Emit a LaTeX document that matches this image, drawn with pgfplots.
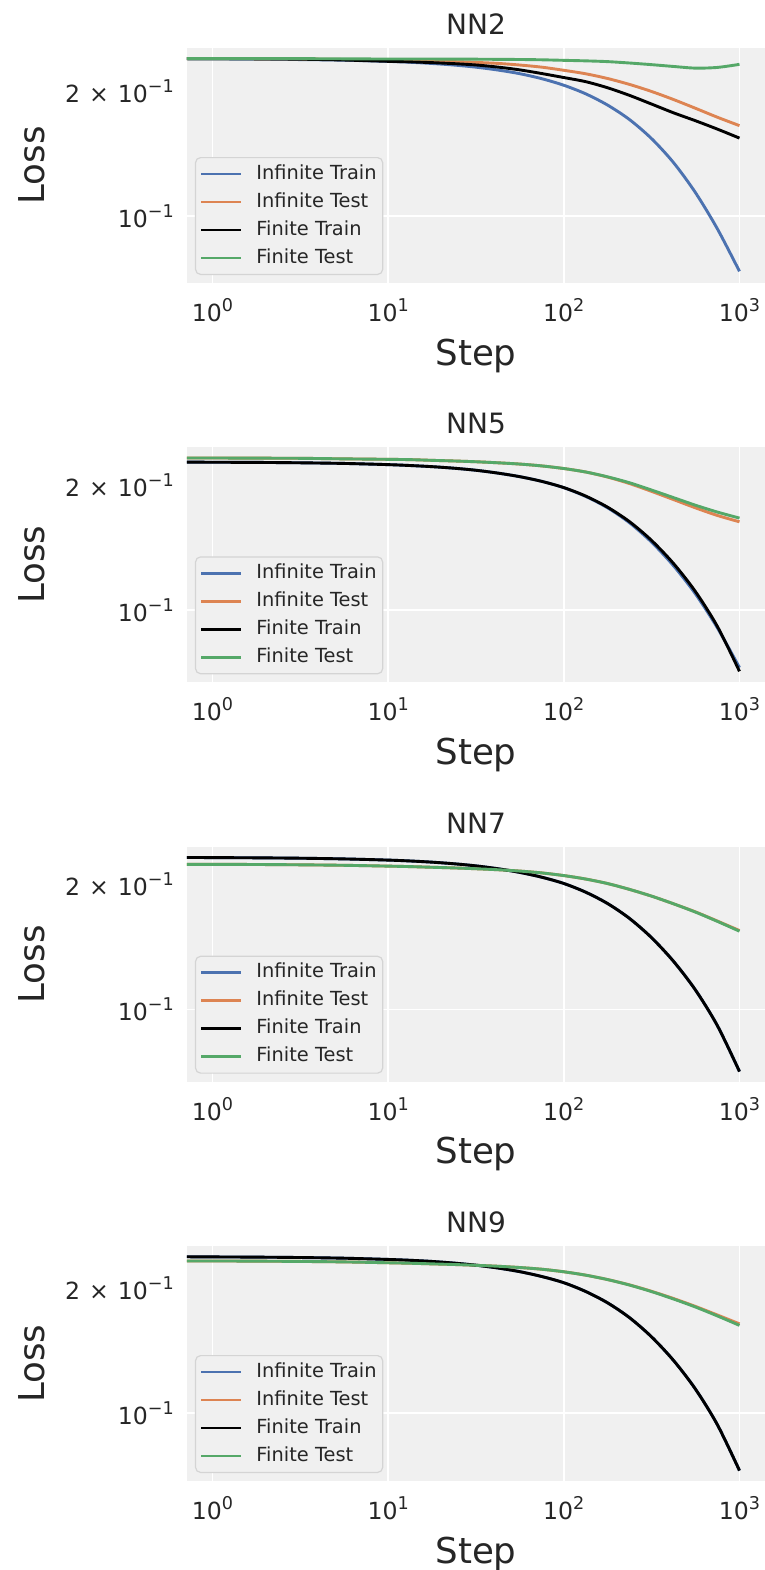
\documentclass[border=0pt]{standalone}
\usepackage{fontspec}
\setmainfont{DejaVu Sans}
\usepackage{pgfplots}
\usepackage{pgfplotstable}
\pgfplotsset{compat=1.18}
\definecolor{sbblue}{HTML}{4C72B0}
\definecolor{sborange}{HTML}{DD8452}
\definecolor{sbgreen}{HTML}{55A868}
\definecolor{bgc}{HTML}{F0F0F0}
\definecolor{txt}{HTML}{262626}
\definecolor{legedge}{HTML}{D4D4D4}
\newcommand\sps[1]{\raisebox{5pt}{\fontsize{8.8}{10}\selectfont #1}}
\newcommand\twoten{2\hspace{0.38em}×\hspace{0.38em}10\sps{−1}}
% columns: step, Infinite Train, Infinite Test, Finite Train, Finite Test
\pgfplotstableread{
x b o k g
0.5623 0.2389 0.2389 0.2389 0.2389
1 0.2385 0.2389 0.2389 0.2389
1.778 0.2382 0.2387 0.2387 0.2389
3.162 0.2377 0.2384 0.2382 0.2389
5.623 0.2369 0.2378 0.2371 0.2387
10 0.2353 0.2369 0.2354 0.2384
13.34 0.2342 0.2363 0.2347 0.2384
17.78 0.2326 0.2357 0.2337 0.2384
23.71 0.2306 0.2350 0.2324 0.2382
31.62 0.2279 0.2340 0.2307 0.2382
42.17 0.2243 0.2327 0.2280 0.2380
56.23 0.2198 0.2306 0.2245 0.2378
74.99 0.2138 0.2279 0.2200 0.2374
100 0.2062 0.2240 0.2152 0.2367
133.4 0.1966 0.2197 0.2103 0.2360
177.8 0.1847 0.2140 0.2033 0.2350
237.1 0.1704 0.2071 0.1949 0.2332
316.2 0.1534 0.1992 0.1858 0.2311
421.7 0.1343 0.1905 0.1770 0.2288
562.3 0.1137 0.1815 0.1694 0.2267
749.9 0.0930 0.1727 0.1617 0.2276
1000 0.0736 0.1649 0.1539 0.2315
}\tabA
\pgfplotstableread{
x b o k g
0.5623 0.2273 0.2324 0.2273 0.2324
1 0.2270 0.2324 0.2270 0.2324
1.778 0.2268 0.2322 0.2268 0.2322
3.162 0.2263 0.2320 0.2263 0.2320
5.623 0.2255 0.2313 0.2255 0.2313
10 0.2240 0.2307 0.2240 0.2307
13.34 0.2229 0.2303 0.2229 0.2303
17.78 0.2215 0.2294 0.2215 0.2294
23.71 0.2196 0.2286 0.2196 0.2286
31.62 0.2171 0.2276 0.2171 0.2276
42.17 0.2137 0.2263 0.2137 0.2263
56.23 0.2095 0.2247 0.2095 0.2247
74.99 0.2041 0.2224 0.2041 0.2224
100 0.1971 0.2192 0.1972 0.2192
133.4 0.1877 0.2150 0.1881 0.2150
177.8 0.1762 0.2090 0.1768 0.2093
237.1 0.1621 0.2016 0.1631 0.2025
316.2 0.1456 0.1931 0.1470 0.1945
421.7 0.1277 0.1845 0.1293 0.1865
562.3 0.1092 0.1762 0.1106 0.1788
749.9 0.0904 0.1689 0.0911 0.1721
1000 0.0726 0.1631 0.0711 0.1665
}\tabB
\pgfplotstableread{
x b o k g
0.5623 0.2324 0.2236 0.2324 0.2236
1 0.2321 0.2236 0.2321 0.2236
1.778 0.2318 0.2234 0.2318 0.2234
3.162 0.2313 0.2230 0.2313 0.2230
5.623 0.2304 0.2224 0.2304 0.2224
10 0.2289 0.2214 0.2289 0.2214
13.34 0.2278 0.2208 0.2278 0.2208
17.78 0.2263 0.2200 0.2263 0.2200
23.71 0.2243 0.2192 0.2243 0.2192
31.62 0.2217 0.2182 0.2217 0.2182
42.17 0.2182 0.2170 0.2182 0.2170
56.23 0.2138 0.2154 0.2138 0.2154
74.99 0.2082 0.2132 0.2082 0.2132
100 0.2011 0.2101 0.2011 0.2101
133.4 0.1916 0.2061 0.1916 0.2061
177.8 0.1799 0.2010 0.1799 0.2010
237.1 0.1656 0.1946 0.1656 0.1946
316.2 0.1489 0.1875 0.1489 0.1875
421.7 0.1306 0.1797 0.1306 0.1797
562.3 0.1114 0.1718 0.1114 0.1716
749.9 0.0914 0.1633 0.0914 0.1630
1000 0.0710 0.1550 0.0710 0.1544
}\tabC
\pgfplotstableread{
x b o k g
0.5623 0.2380 0.2324 0.2380 0.2324
1 0.2377 0.2324 0.2377 0.2324
1.778 0.2374 0.2322 0.2374 0.2322
3.162 0.2369 0.2318 0.2369 0.2318
5.623 0.2360 0.2312 0.2360 0.2312
10 0.2344 0.2301 0.2344 0.2301
13.34 0.2333 0.2295 0.2333 0.2295
17.78 0.2318 0.2287 0.2318 0.2287
23.71 0.2297 0.2279 0.2297 0.2279
31.62 0.2270 0.2269 0.2270 0.2269
42.17 0.2235 0.2257 0.2235 0.2257
56.23 0.2190 0.2241 0.2190 0.2241
74.99 0.2132 0.2220 0.2132 0.2220
100 0.2060 0.2189 0.2060 0.2189
133.4 0.1962 0.2148 0.1962 0.2148
177.8 0.1842 0.2096 0.1842 0.2096
237.1 0.1696 0.2035 0.1696 0.2033
316.2 0.1525 0.1964 0.1525 0.1961
421.7 0.1338 0.1887 0.1338 0.1882
562.3 0.1141 0.1806 0.1141 0.1800
749.9 0.0936 0.1722 0.0936 0.1713
1000 0.0727 0.1640 0.0727 0.1626
}\tabD
\begin{document}
\begin{tikzpicture}
% ---------------- NN2
\begin{axis}[xmode=log, ymode=log, scale only axis, width=289pt, height=117.5pt,
    xmin=0.716, xmax=1397, ymin=0.0690, ymax=0.2534,
    at={(93.5pt,-24pt)}, anchor=north west, title=NN2,
    axis line style={draw=none}, axis background/.style={fill=bgc},
    major tick length=0pt, minor tick length=0pt,
    xtick={1,10,100,1000}, xticklabels={10\sps{0},10\sps{1},10\sps{2},10\sps{3}},
    ytick={0.1}, yticklabels={10\sps{−1}},
    extra y ticks={0.2}, extra y tick labels={\twoten},
    extra y tick style={grid=none},
    grid=major, major grid style={white, line width=0.8pt},
    tick label style={font=\fontsize{11.8}{14}\selectfont, text=txt},
    xticklabel style={yshift=-4.2pt}, yticklabel style={xshift=-3pt},
    label style={font=\fontsize{17.8}{20}\selectfont, text=txt},
    xlabel=Step, ylabel=Loss,
    x label style={at={(axis description cs:0.5,-0.349)}, anchor=base},
    y label style={at={(axis description cs:-0.2457,0.5)}, anchor=base},
    title style={font=\fontsize{14}{16}\selectfont, text=txt, at={(axis description cs:0.5,1)}, anchor=south, inner sep=0pt, yshift=0.5pt},
    legend style={at={(axis description cs:0.0138,0.034)}, anchor=south west,
      draw=legedge, fill=bgc, rounded corners=2.5pt, line width=0.6pt,
      font=\fontsize{9.7}{11}\selectfont, text=txt,
      inner xsep=2pt, inner ysep=2.7pt, row sep=3pt,
      nodes={inner xsep=1pt, inner ysep=1pt, text height=7pt, text depth=2pt}},
    legend cell align=left,
    legend image code/.code={\draw[#1, line width=1.45pt] (0pt,0pt) -- (20pt,0pt); \path (26pt,0pt);},
    every axis plot/.append style={line width=1.45pt, smooth}]
\addplot[sbblue] table[x=x,y=b]{\tabA};
\addlegendentry{Infinite Train}
\addplot[sborange] table[x=x,y=o]{\tabA};
\addlegendentry{Infinite Test}
\addplot[black] table[x=x,y=k]{\tabA};
\addlegendentry{Finite Train}
\addplot[sbgreen] table[x=x,y=g]{\tabA};
\addlegendentry{Finite Test}
\end{axis}
% ---------------- NN5
\begin{axis}[xmode=log, ymode=log, scale only axis, width=289pt, height=117.5pt,
    xmin=0.716, xmax=1397, ymin=0.0669, ymax=0.2466,
    at={(93.5pt,-223.65pt)}, anchor=north west, title=NN5,
    axis line style={draw=none}, axis background/.style={fill=bgc},
    major tick length=0pt, minor tick length=0pt,
    xtick={1,10,100,1000}, xticklabels={10\sps{0},10\sps{1},10\sps{2},10\sps{3}},
    ytick={0.1}, yticklabels={10\sps{−1}},
    extra y ticks={0.2}, extra y tick labels={\twoten},
    extra y tick style={grid=none},
    grid=major, major grid style={white, line width=0.8pt},
    tick label style={font=\fontsize{11.8}{14}\selectfont, text=txt},
    xticklabel style={yshift=-4.2pt}, yticklabel style={xshift=-3pt},
    label style={font=\fontsize{17.8}{20}\selectfont, text=txt},
    xlabel=Step, ylabel=Loss,
    x label style={at={(axis description cs:0.5,-0.349)}, anchor=base},
    y label style={at={(axis description cs:-0.2457,0.5)}, anchor=base},
    title style={font=\fontsize{14}{16}\selectfont, text=txt, at={(axis description cs:0.5,1)}, anchor=south, inner sep=0pt, yshift=0.5pt},
    legend style={at={(axis description cs:0.0138,0.034)}, anchor=south west,
      draw=legedge, fill=bgc, rounded corners=2.5pt, line width=0.6pt,
      font=\fontsize{9.7}{11}\selectfont, text=txt,
      inner xsep=2pt, inner ysep=2.7pt, row sep=3pt,
      nodes={inner xsep=1pt, inner ysep=1pt, text height=7pt, text depth=2pt}},
    legend cell align=left,
    legend image code/.code={\draw[#1, line width=1.45pt] (0pt,0pt) -- (20pt,0pt); \path (26pt,0pt);},
    every axis plot/.append style={line width=1.45pt, smooth}]
\addplot[sbblue] table[x=x,y=b]{\tabB};
\addlegendentry{Infinite Train}
\addplot[sborange] table[x=x,y=o]{\tabB};
\addlegendentry{Infinite Test}
\addplot[black] table[x=x,y=k]{\tabB};
\addlegendentry{Finite Train}
\addplot[sbgreen] table[x=x,y=g]{\tabB};
\addlegendentry{Finite Test}
\end{axis}
% ---------------- NN7
\begin{axis}[xmode=log, ymode=log, scale only axis, width=289pt, height=117.5pt,
    xmin=0.716, xmax=1397, ymin=0.0671, ymax=0.2465,
    at={(93.5pt,-423.35pt)}, anchor=north west, title=NN7,
    axis line style={draw=none}, axis background/.style={fill=bgc},
    major tick length=0pt, minor tick length=0pt,
    xtick={1,10,100,1000}, xticklabels={10\sps{0},10\sps{1},10\sps{2},10\sps{3}},
    ytick={0.1}, yticklabels={10\sps{−1}},
    extra y ticks={0.2}, extra y tick labels={\twoten},
    extra y tick style={grid=none},
    grid=major, major grid style={white, line width=0.8pt},
    tick label style={font=\fontsize{11.8}{14}\selectfont, text=txt},
    xticklabel style={yshift=-4.2pt}, yticklabel style={xshift=-3pt},
    label style={font=\fontsize{17.8}{20}\selectfont, text=txt},
    xlabel=Step, ylabel=Loss,
    x label style={at={(axis description cs:0.5,-0.349)}, anchor=base},
    y label style={at={(axis description cs:-0.2457,0.5)}, anchor=base},
    title style={font=\fontsize{14}{16}\selectfont, text=txt, at={(axis description cs:0.5,1)}, anchor=south, inner sep=0pt, yshift=0.5pt},
    legend style={at={(axis description cs:0.0138,0.034)}, anchor=south west,
      draw=legedge, fill=bgc, rounded corners=2.5pt, line width=0.6pt,
      font=\fontsize{9.7}{11}\selectfont, text=txt,
      inner xsep=2pt, inner ysep=2.7pt, row sep=3pt,
      nodes={inner xsep=1pt, inner ysep=1pt, text height=7pt, text depth=2pt}},
    legend cell align=left,
    legend image code/.code={\draw[#1, line width=1.45pt] (0pt,0pt) -- (20pt,0pt); \path (26pt,0pt);},
    every axis plot/.append style={line width=1.45pt, smooth}]
\addplot[sbblue] table[x=x,y=b]{\tabC};
\addlegendentry{Infinite Train}
\addplot[sborange] table[x=x,y=o]{\tabC};
\addlegendentry{Infinite Test}
\addplot[black] table[x=x,y=k]{\tabC};
\addlegendentry{Finite Train}
\addplot[sbgreen] table[x=x,y=g]{\tabC};
\addlegendentry{Finite Test}
\end{axis}
% ---------------- NN9
\begin{axis}[xmode=log, ymode=log, scale only axis, width=289pt, height=117.5pt,
    xmin=0.716, xmax=1397, ymin=0.0686, ymax=0.2525,
    at={(93.5pt,-623pt)}, anchor=north west, title=NN9,
    axis line style={draw=none}, axis background/.style={fill=bgc},
    major tick length=0pt, minor tick length=0pt,
    xtick={1,10,100,1000}, xticklabels={10\sps{0},10\sps{1},10\sps{2},10\sps{3}},
    ytick={0.1}, yticklabels={10\sps{−1}},
    extra y ticks={0.2}, extra y tick labels={\twoten},
    extra y tick style={grid=none},
    grid=major, major grid style={white, line width=0.8pt},
    tick label style={font=\fontsize{11.8}{14}\selectfont, text=txt},
    xticklabel style={yshift=-4.2pt}, yticklabel style={xshift=-3pt},
    label style={font=\fontsize{17.8}{20}\selectfont, text=txt},
    xlabel=Step, ylabel=Loss,
    x label style={at={(axis description cs:0.5,-0.349)}, anchor=base},
    y label style={at={(axis description cs:-0.2457,0.5)}, anchor=base},
    title style={font=\fontsize{14}{16}\selectfont, text=txt, at={(axis description cs:0.5,1)}, anchor=south, inner sep=0pt, yshift=0.5pt},
    legend style={at={(axis description cs:0.0138,0.034)}, anchor=south west,
      draw=legedge, fill=bgc, rounded corners=2.5pt, line width=0.6pt,
      font=\fontsize{9.7}{11}\selectfont, text=txt,
      inner xsep=2pt, inner ysep=2.7pt, row sep=3pt,
      nodes={inner xsep=1pt, inner ysep=1pt, text height=7pt, text depth=2pt}},
    legend cell align=left,
    legend image code/.code={\draw[#1, line width=1.45pt] (0pt,0pt) -- (20pt,0pt); \path (26pt,0pt);},
    every axis plot/.append style={line width=1.45pt, smooth}]
\addplot[sbblue] table[x=x,y=b]{\tabD};
\addlegendentry{Infinite Train}
\addplot[sborange] table[x=x,y=o]{\tabD};
\addlegendentry{Infinite Test}
\addplot[black] table[x=x,y=k]{\tabD};
\addlegendentry{Finite Train}
\addplot[sbgreen] table[x=x,y=g]{\tabD};
\addlegendentry{Finite Test}
\end{axis}
\pgfresetboundingbox
\useasboundingbox (0,0) rectangle (382.5pt,-785pt);
\end{tikzpicture}
\end{document}
